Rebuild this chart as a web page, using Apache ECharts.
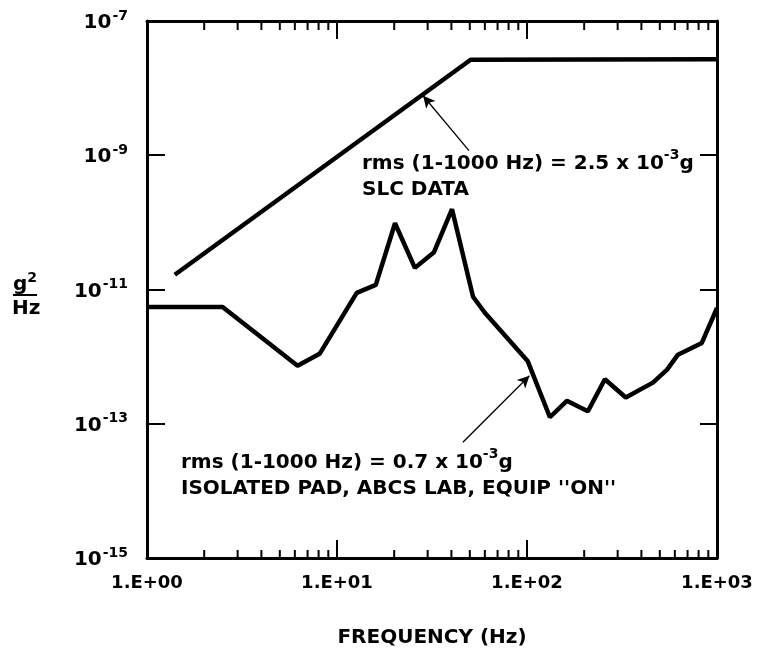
<!DOCTYPE html>
<html>
<head>
<meta charset="utf-8">
<script src="https://cdn.jsdelivr.net/npm/echarts@6/dist/echarts.min.js"></script>
<style>
  html, body { margin: 0; padding: 0; background: #fff; }
  #chart { width: 758px; height: 653px; }
</style>
</head>
<body>
<div id="chart"></div>
<script>
// SLC data envelope
const slcFreq = [1.4, 50.5, 1000];
const slcPsd = [1.66e-11, 2.65e-8, 2.7e-8];

// isolated pad, ABCS lab, equipment on
const padFreq = [1.0, 2.5, 6.2, 8.1, 12.7, 16.0, 20.2, 25.7, 32.4, 40.3, 52, 60, 101,
  132, 162, 209, 257, 331, 460, 546, 623, 832, 1000];
const padPsd = [5.5e-12, 5.5e-12, 7.3e-13, 1.1e-12, 8.9e-12, 1.17e-11, 9.7e-11, 2.1e-11,
  3.6e-11, 1.57e-10, 7.8e-12, 4.5e-12, 8.5e-13, 1.25e-13, 2.2e-13, 1.53e-13, 4.6e-13,
  2.46e-13, 4.1e-13, 6.4e-13, 1.07e-12, 1.6e-12, 5.3e-12];

// tick labels
const xTickLabels = ['1.E+00', '1.E+01', '1.E+02', '1.E+03'];
const yTickExps = ['-15', '-13', '-11', '-9', '-7'];
const minorFreq = [2, 3, 4, 5, 6, 7, 8, 9, 20, 30, 40, 50, 60, 70, 80, 90,
  200, 300, 400, 500, 600, 700, 800, 900];

const X_MIN = 1, X_MAX = 1000, Y_MIN = 1e-15, Y_MAX = 1e-7;
const FONT = '"DejaVu Sans", sans-serif';

const chart = echarts.init(document.getElementById('chart'), null, { renderer: 'canvas' });

const axisLine = { show: true, lineStyle: { color: '#000', width: 3 } };

const option = {
  animation: false,
  backgroundColor: '#fff',
  grid: { left: 147, right: 41, top: 21, bottom: 94 },
  xAxis: [
    {
      type: 'log', logBase: 10, min: X_MIN, max: X_MAX, position: 'bottom',
      axisLine: axisLine,
      axisTick: { show: true, inside: true, length: 18, lineStyle: { color: '#000', width: 2 } },
      splitLine: { show: false },
      axisLabel: {
        margin: 16, color: '#000', fontFamily: FONT, fontWeight: 'bold', fontSize: 18,
        formatter: v => xTickLabels[Math.round(Math.log10(v))]
      },
      name: 'FREQUENCY (Hz)', nameLocation: 'middle', nameGap: 70,
      nameTextStyle: { color: '#000', fontFamily: FONT, fontWeight: 'bold', fontSize: 20 }
    },
    {
      type: 'log', logBase: 10, min: X_MIN, max: X_MAX, position: 'top',
      axisLine: axisLine,
      axisTick: { show: true, inside: true, length: 18, lineStyle: { color: '#000', width: 2 } },
      splitLine: { show: false },
      axisLabel: { show: false }
    }
  ],
  yAxis: [
    {
      type: 'log', logBase: 10, min: Y_MIN, max: Y_MAX, interval: 2, position: 'left',
      axisLine: axisLine,
      axisTick: { show: true, inside: true, length: 18, lineStyle: { color: '#000', width: 2 } },
      splitLine: { show: false },
      axisLabel: {
        margin: 19, color: '#000',
        formatter: v => {
          const e = Math.round(Math.log10(v));
          const lbl = yTickExps.find(s => +s === e);
          return lbl ? '{b|10}{s|' + lbl + '}' : '';
        },
        rich: {
          b: { fontFamily: FONT, fontWeight: 'bold', fontSize: 20, color: '#000', lineHeight: 24, verticalAlign: 'bottom' },
          s: { fontFamily: FONT, fontWeight: 'bold', fontSize: 14, color: '#000', lineHeight: 14, verticalAlign: 'top', padding: [0, 0, 0, 1] }
        }
      }
    },
    {
      type: 'log', logBase: 10, min: Y_MIN, max: Y_MAX, interval: 2, position: 'right',
      axisLine: axisLine,
      axisTick: { show: true, inside: true, length: 17, lineStyle: { color: '#000', width: 2 } },
      splitLine: { show: false },
      axisLabel: { show: false }
    }
  ],
  graphic: [
    {
      type: 'text', left: 13, top: 271,
      style: {
        text: '{g|g}{s|2}',
        rich: {
          g: { fontFamily: FONT, fontWeight: 'bold', fontSize: 20, fill: '#000', lineHeight: 24, verticalAlign: 'bottom' },
          s: { fontFamily: FONT, fontWeight: 'bold', fontSize: 14, fill: '#000', lineHeight: 14, verticalAlign: 'top' }
        }
      }
    },
    { type: 'line', shape: { x1: 13, y1: 295, x2: 37, y2: 295 }, style: { stroke: '#000', lineWidth: 2 } },
    {
      type: 'text', left: 12, top: 299,
      style: { text: 'Hz', font: 'bold 20px ' + FONT, fill: '#000' }
    },
    {
      type: 'text', left: 362, top: 148,
      style: {
        text: '{a|rms (1-1000 Hz) = 2.5 x 10}{s|-3}{a|g}\n{a|SLC DATA}',
        rich: {
          a: { fontFamily: FONT, fontWeight: 'bold', fontSize: 20, fill: '#000', lineHeight: 26, verticalAlign: 'bottom' },
          s: { fontFamily: FONT, fontWeight: 'bold', fontSize: 14, fill: '#000', lineHeight: 18, verticalAlign: 'top' }
        }
      }
    },
    {
      type: 'text', left: 181, top: 447,
      style: {
        text: '{a|rms (1-1000 Hz) = 0.7 x 10}{s|-3}{a|g}\n{a|ISOLATED PAD, ABCS LAB, EQUIP \'\'ON\'\'}',
        rich: {
          a: { fontFamily: FONT, fontWeight: 'bold', fontSize: 20, fill: '#000', lineHeight: 26, verticalAlign: 'bottom' },
          s: { fontFamily: FONT, fontWeight: 'bold', fontSize: 14, fill: '#000', lineHeight: 18, verticalAlign: 'top' }
        }
      }
    }
  ],
  series: [
    {
      name: 'SLC DATA', type: 'line', xAxisIndex: 0, yAxisIndex: 0,
      data: slcFreq.map((f, i) => [f, slcPsd[i]]),
      symbol: 'none', lineStyle: { color: '#000', width: 4.5 }, z: 3,
      markLine: {
        silent: true, symbol: ['none', 'arrow'], symbolSize: [9, 12],
        lineStyle: { color: '#000', width: 1.3, type: 'solid' }, label: { show: false },
        data: [[{ coord: [49.5, 1.17e-9] }, { coord: [28.4, 7.7e-9] }]]
      }
    },
    {
      name: 'ISOLATED PAD', type: 'line', xAxisIndex: 0, yAxisIndex: 0,
      data: padFreq.map((f, i) => [f, padPsd[i]]),
      symbol: 'none', lineStyle: { color: '#000', width: 4.5 }, z: 3,
      markLine: {
        silent: true, symbol: ['none', 'arrow'], symbolSize: [9, 12],
        lineStyle: { color: '#000', width: 1.3, type: 'solid' }, label: { show: false },
        data: [[{ coord: [46, 5.3e-14] }, { coord: [103, 5.2e-13] }]]
      }
    },
    {
      // minor log ticks on bottom and top frame
      name: 'minor', type: 'custom', xAxisIndex: 0, yAxisIndex: 0, silent: true,
      data: minorFreq.map(f => [f, Y_MIN]),
      renderItem: (params, api) => {
        const b = api.coord([api.value(0), Y_MIN]);
        const t = api.coord([api.value(0), Y_MAX]);
        const st = { stroke: '#000', lineWidth: 2 };
        return {
          type: 'group',
          children: [
            { type: 'line', shape: { x1: b[0], y1: b[1], x2: b[0], y2: b[1] - 8 }, style: st },
            { type: 'line', shape: { x1: t[0], y1: t[1], x2: t[0], y2: t[1] + 9 }, style: st }
          ]
        };
      }
    }
  ]
};

chart.setOption(option);
</script>
</body>
</html>
